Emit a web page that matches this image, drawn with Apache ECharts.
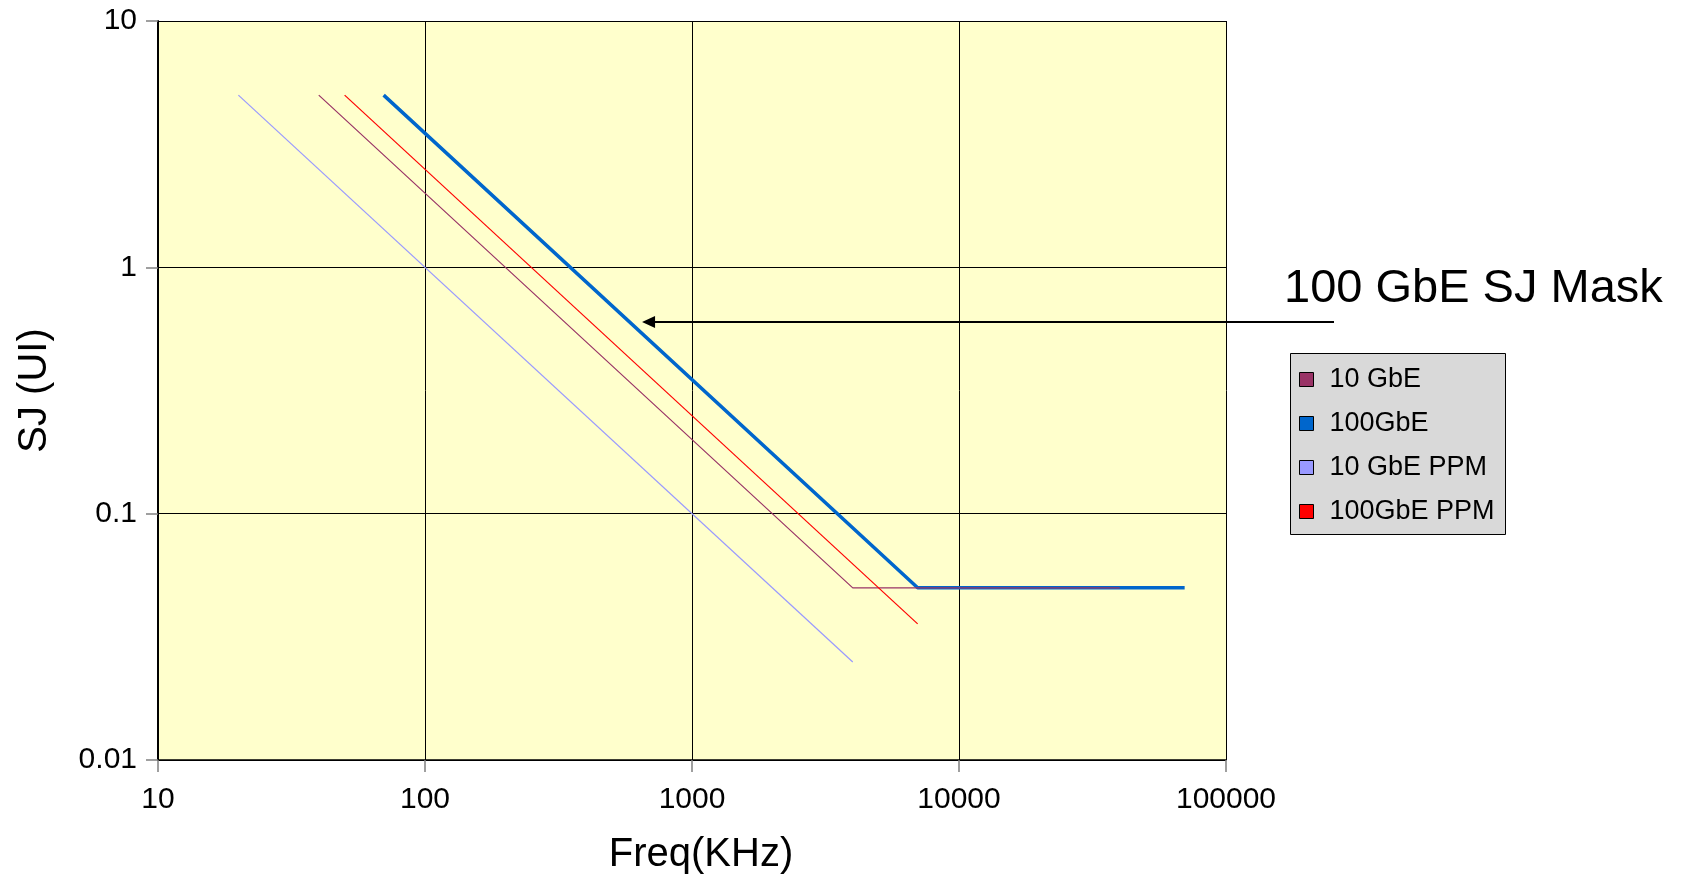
<!DOCTYPE html>
<html>
<head>
<meta charset="utf-8">
<script src="https://cdn.jsdelivr.net/npm/echarts@6/dist/echarts.min.js"></script>
<style>
html,body{margin:0;padding:0;background:#fff;}
#chart{width:1687px;height:876px;}
</style>
</head>
<body>
<div id="chart"></div>
<script>
// ---- data ----
const seriesNames = ['10 GbE', '100GbE', '10 GbE PPM', '100GbE PPM'];
const freq10G = [40, 4000, 40000];
const sj10G = [5, 0.05, 0.05];
const freq100G = [70, 7000, 70000];
const sj100G = [5, 0.05, 0.05];
const freq10GPPM = [20, 4000];
const sj10GPPM = [5, 0.025];
const freq100GPPM = [50, 7000];
const sj100GPPM = [5, 0.0357];
const xTickLabels = ['10', '100', '1000', '10000', '100000'];
const yTickLabels = ['0.01', '0.1', '1', '10'];
const annotationText = '100 GbE SJ Mask';
const annotationTip = [650, 0.6];

const FONT = '"Liberation Sans", Arial, Helvetica, sans-serif';
const pair = (xs, ys) => xs.map((x, i) => [x, ys[i]]);

const chart = echarts.init(document.getElementById('chart'));

const option = {
  backgroundColor: '#ffffff',
  animation: false,
  textStyle: { fontFamily: FONT },
  grid: {
    left: 158, right: 461, top: 21, bottom: 116,
    containLabel: false, outerBoundsMode: 'none',
    show: true, backgroundColor: '#FFFFCC', borderColor: '#000', borderWidth: 0
  },
  legend: {
    orient: 'vertical',
    left: 1299, top: 366,
    padding: 0,
    itemGap: 17,
    itemWidth: 14, itemHeight: 14,
    icon: 'rect',
    itemStyle: { borderColor: '#000', borderWidth: 1 },
    textStyle: { fontFamily: FONT, fontSize: 27, color: '#000', lineHeight: 27, padding: [0, 0, 0, 11] },
    data: seriesNames
  },
  xAxis: {
    type: 'log', logBase: 10, min: 10, max: 100000,
    name: 'Freq(KHz)', nameLocation: 'middle', nameGap: 75,
    nameTextStyle: { fontFamily: FONT, fontSize: 40, color: '#000', padding: [0, 0, 0, 18] },
    axisLine: { show: true, onZero: false, lineStyle: { color: '#000', width: 1.5 } },
    axisTick: { show: true, inside: false, length: 12, lineStyle: { color: '#808080', width: 1.5 } },
    axisLabel: {
      margin: 25, fontFamily: FONT, fontSize: 30, color: '#000',
      formatter: v => xTickLabels[Math.round(Math.log10(v)) - 1]
    },
    splitLine: { show: true, lineStyle: { color: '#000', width: 1 } },
    minorTick: { show: false }
  },
  yAxis: {
    type: 'log', logBase: 10, min: 0.01, max: 10,
    name: 'SJ (UI)', nameLocation: 'middle', nameGap: 103, nameRotate: 90,
    nameTextStyle: { fontFamily: FONT, fontSize: 40, color: '#000' },
    axisLine: { show: true, onZero: false, lineStyle: { color: '#000', width: 2 } },
    axisTick: { show: true, inside: false, length: 12, lineStyle: { color: '#808080', width: 1.5 } },
    axisLabel: {
      margin: 21, fontFamily: FONT, fontSize: 30, color: '#000',
      formatter: v => yTickLabels[Math.round(Math.log10(v)) + 2]
    },
    splitLine: { show: true, lineStyle: { color: '#000', width: 1 } }
  },
  series: [
    {
      name: seriesNames[0], type: 'line', data: pair(freq10G, sj10G),
      showSymbol: false, symbol: 'none', z: 5,
      lineStyle: { color: '#993366', width: 1.2 }, itemStyle: { color: '#993366' }
    },
    {
      name: seriesNames[1], type: 'line', data: pair(freq100G, sj100G),
      showSymbol: false, symbol: 'none', z: 3,
      lineStyle: { color: '#0066CC', width: 3.5 }, itemStyle: { color: '#0066CC' }
    },
    {
      name: seriesNames[2], type: 'line', data: pair(freq10GPPM, sj10GPPM),
      showSymbol: false, symbol: 'none', z: 4,
      lineStyle: { color: '#9999FF', width: 1.2 }, itemStyle: { color: '#9999FF' }
    },
    {
      name: seriesNames[3], type: 'line', data: pair(freq100GPPM, sj100GPPM),
      showSymbol: false, symbol: 'none', z: 6,
      lineStyle: { color: '#FF0000', width: 1.2 }, itemStyle: { color: '#FF0000' }
    }
  ]
};

chart.setOption(option);

const tip = chart.convertToPixel({ gridIndex: 0 }, annotationTip);
const tailX = 1334;
const headLen = 13, headHalf = 6;
chart.setOption({
  graphic: [
    {
      type: 'rect', z: -1, silent: true,
      shape: { x: 1290.5, y: 353.5, width: 215, height: 181 },
      style: { fill: '#D9D9D9', stroke: '#000', lineWidth: 1 }
    },
    {
      type: 'line', z: 10, silent: true,
      shape: { x1: tip[0] + headLen - 1, y1: tip[1], x2: tailX, y2: tip[1] },
      style: { stroke: '#000', lineWidth: 2 }
    },
    {
      type: 'polygon', z: 10, silent: true,
      shape: { points: [[tip[0], tip[1]], [tip[0] + headLen, tip[1] - headHalf], [tip[0] + headLen, tip[1] + headHalf]] },
      style: { fill: '#000' }
    },
    {
      type: 'text', z: 10, silent: true,
      x: 1284, y: 289,
      style: { text: annotationText, fontFamily: FONT, fontSize: 47, fill: '#000', textVerticalAlign: 'middle', textAlign: 'left' }
    }
  ]
});
</script>
</body>
</html>
